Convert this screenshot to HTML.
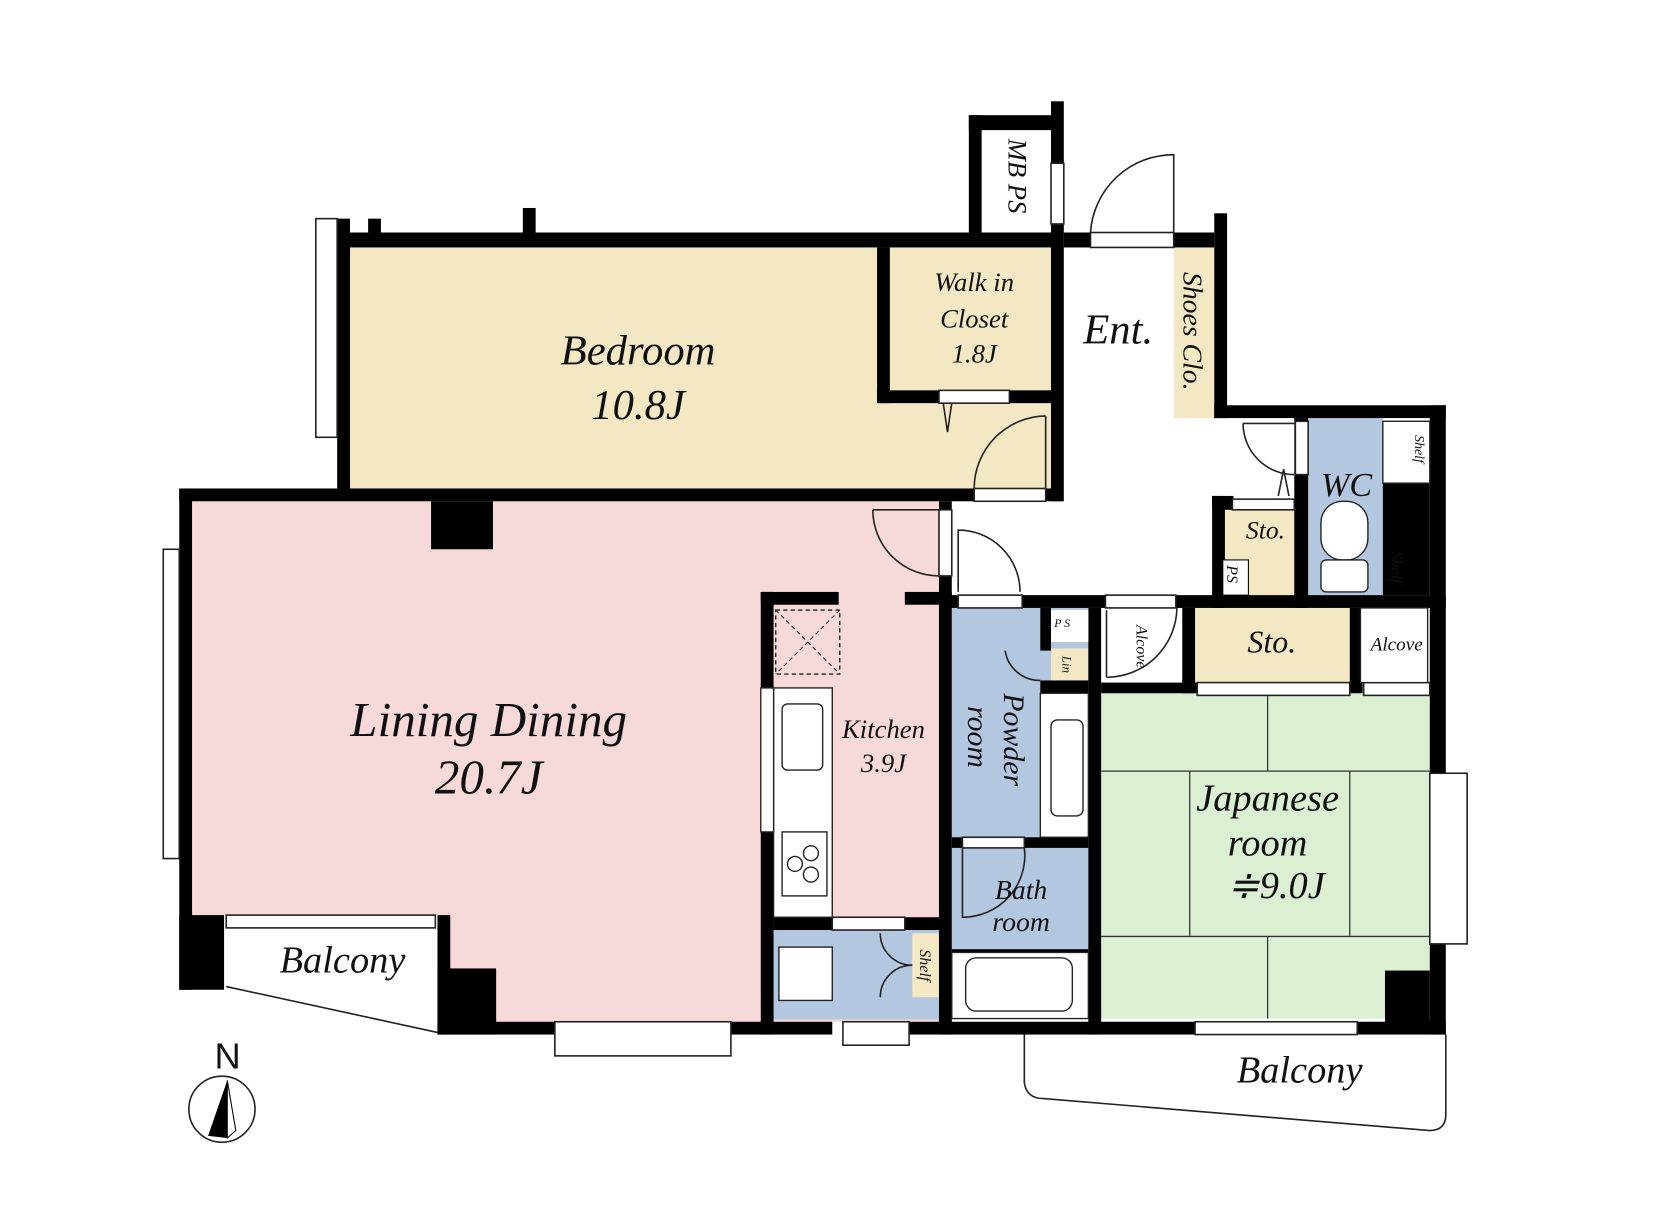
<!DOCTYPE html>
<html><head><meta charset="utf-8"><style>
html,body{margin:0;padding:0;background:#fff;width:1672px;height:1218px;overflow:hidden}
svg{display:block}
text{font-family:"Liberation Serif",serif;font-style:italic;fill:#111}
</style></head><body>
<svg width="1672" height="1218" viewBox="0 0 1567 1142" preserveAspectRatio="none" xmlns="http://www.w3.org/2000/svg">
<rect x="328" y="232" width="494" height="228" fill="#f4e7c3"/>
<rect x="822" y="378" width="163" height="82" fill="#f4e7c3"/>
<rect x="834" y="232" width="151" height="135" fill="#f4e7c3"/>
<polygon points="180,470 880,470 880,958 465,958 410,905 410,858 180,858" fill="#f8d9d9"/>
<rect x="725" y="870" width="155" height="86" fill="#b3c8e0"/>
<rect x="892" y="570" width="128" height="215" fill="#b3c8e0"/>
<rect x="892" y="795" width="128" height="96" fill="#b3c8e0"/>
<rect x="1226" y="392" width="70" height="166" fill="#b3c8e0"/>
<rect x="1148" y="478" width="66" height="80" fill="#f4e7c3"/>
<rect x="1100" y="232" width="38" height="160" fill="#f4e7c3"/>
<rect x="1120" y="570" width="145" height="70" fill="#f4e7c3"/>
<rect x="985" y="608" width="35" height="30" fill="#f4e7c3"/>
<rect x="1300" y="515" width="20" height="43" fill="#f4e7c3"/>
<rect x="855" y="875" width="25" height="60" fill="#f4e7c3"/>
<rect x="1032" y="650" width="308" height="305" fill="#dbf0d2"/>
<g stroke="#333" stroke-width="1.2" fill="none">
<line x1="1188" y1="650" x2="1188" y2="723"/><line x1="1032" y1="723" x2="1340" y2="723"/>
<line x1="1115" y1="723" x2="1115" y2="878"/><line x1="1265" y1="723" x2="1265" y2="878"/>
<line x1="1032" y1="878" x2="1340" y2="878"/><line x1="1188" y1="878" x2="1188" y2="955"/>
</g>
<g fill="#000">
<rect x="316" y="218" width="679" height="14"/>
<rect x="316" y="205" width="12" height="255"/>
<rect x="345" y="205" width="12" height="15"/>
<rect x="490" y="195" width="12" height="25"/>
<rect x="822" y="232" width="12" height="146"/>
<rect x="822" y="366" width="60" height="12"/>
<rect x="946" y="366" width="40" height="12"/>
<rect x="985" y="95" width="12" height="375"/>
<rect x="908" y="108" width="12" height="112"/>
<rect x="908" y="108" width="80" height="14"/>
<rect x="168" y="458" width="745" height="12"/>
<rect x="980" y="458" width="15" height="12"/>
<rect x="404" y="470" width="58" height="45"/>
<rect x="168" y="458" width="12" height="470"/>
<rect x="168" y="858" width="42" height="70"/>
<rect x="410" y="858" width="12" height="112"/>
<rect x="410" y="908" width="55" height="62"/>
<rect x="410" y="958" width="110" height="12"/>
<rect x="685" y="958" width="95" height="12"/>
<rect x="852" y="958" width="503" height="12"/>
<rect x="713" y="555" width="12" height="415"/>
<rect x="713" y="555" width="73" height="12"/>
<rect x="848" y="555" width="44" height="12"/>
<rect x="880" y="470" width="12" height="500"/>
<rect x="725" y="860" width="55" height="12"/>
<rect x="848" y="860" width="32" height="12"/>
<rect x="997" y="218" width="25" height="14"/>
<rect x="1100" y="218" width="38" height="14"/>
<rect x="1138" y="200" width="12" height="192"/>
<rect x="1138" y="380" width="217" height="12"/>
<rect x="880" y="558" width="18" height="12"/>
<rect x="958" y="558" width="78" height="12"/>
<rect x="1102" y="558" width="253" height="12"/>
<rect x="1020" y="570" width="12" height="400"/>
<rect x="1340" y="380" width="15" height="590"/>
<rect x="1296" y="453" width="44" height="105"/>
<rect x="1213" y="392" width="13" height="178"/>
<rect x="1136" y="465" width="12" height="105"/>
<rect x="1136" y="465" width="20" height="13"/>
<rect x="975" y="570" width="10" height="40"/>
<rect x="975" y="638" width="45" height="12"/>
<rect x="892" y="785" width="10" height="10"/>
<rect x="960" y="785" width="60" height="10"/>
<rect x="892" y="890" width="128" height="3"/>
<rect x="1108" y="570" width="12" height="80"/>
<rect x="1265" y="570" width="12" height="80"/>
<rect x="1032" y="640" width="90" height="10"/>
<rect x="1298" y="910" width="42" height="50"/>
</g>
<rect x="1146" y="525" width="24" height="33" fill="#fff" stroke="#000"/>
<rect x="985" y="572" width="35" height="30" fill="#fff"/>
<g fill="#fff" stroke="#222" stroke-width="1.5">
<rect x="296" y="205" width="20" height="205"/>
<rect x="153" y="515" width="15" height="290"/>
<rect x="520" y="958" width="165" height="32"/>
<rect x="790" y="958" width="62" height="22"/>
<rect x="1340" y="725" width="35" height="160"/>
<rect x="1120" y="958" width="152" height="12"/>
<rect x="212" y="858" width="196" height="12"/>
<rect x="1122" y="640" width="143" height="12"/>
<rect x="1278" y="640" width="62" height="12"/>
<rect x="880" y="366" width="66" height="12"/>
<rect x="913" y="458" width="67" height="12"/>
<rect x="898" y="558" width="60" height="12"/>
<rect x="1036" y="558" width="66" height="12"/>
<rect x="902" y="785" width="58" height="10"/>
<rect x="780" y="860" width="68" height="12"/>
<rect x="880" y="478" width="12" height="62"/>
<rect x="1022" y="218" width="78" height="14"/>
<rect x="1155" y="468" width="58" height="10"/>
<rect x="1214" y="395" width="12" height="50"/>
<rect x="985" y="153" width="12" height="57"/>
</g>
<g fill="none" stroke="#222" stroke-width="1.5">
<path d="M980,390 A68,68 0 0 0 913,458 M980,390 L980,458"/>
<path d="M818,478 A62,62 0 0 0 880,540 M818,478 L880,478"/>
<path d="M898,555 L898,497 A58,58 0 0 1 956,555"/>
<path d="M1022,218 A78,78 0 0 1 1100,145 L1100,218"/>
<path d="M1165,397 A48,48 0 0 0 1213,445 M1165,397 L1213,397"/>
<path d="M1037,635 A66,66 0 0 0 1103,570 M1037,635 L1037,572"/>
<path d="M942,610 A33,33 0 0 0 975,638"/>
<path d="M902,795 L902,860 A58,58 0 0 0 960,795"/>
<path d="M825,875 A30,30 0 0 0 855,905 A30,30 0 0 0 825,935"/>
<path d="M884,378 L888,405 L892,378"/>
<path d="M1198,465 L1203,440 L1208,465"/>
<path d="M960,970 L960,1015 Q962,1030 978,1030 L1340,1060 Q1355,1060 1355,1045 L1355,970"/>
<path d="M212,925 L410,968"/>
</g>
<g fill="#fff" stroke="#222" stroke-width="1.3">
<rect x="727" y="572" width="60" height="60" fill="none" stroke-dasharray="4,3"/>
<rect x="725" y="645" width="55" height="215"/>
<rect x="713" y="645" width="12" height="135"/>
<rect x="733" y="660" width="38" height="62" rx="5"/>
<rect x="733" y="780" width="42" height="60"/>
<circle cx="745" cy="810" r="7"/><circle cx="760" cy="800" r="7"/><circle cx="760" cy="820" r="7"/>
<rect x="730" y="888" width="50" height="50"/>
<rect x="975" y="650" width="45" height="135"/>
<rect x="985" y="675" width="30" height="90" rx="6"/>
<rect x="892" y="893" width="128" height="62"/>
<rect x="905" y="898" width="100" height="50" rx="10"/>
<rect x="1238" y="470" width="44" height="55" rx="20"/>
<rect x="1238" y="525" width="44" height="30" rx="5"/>
<rect x="1296" y="395" width="44" height="58"/>
<rect x="1275" y="570" width="63" height="70"/>
</g>
<line x1="727" y1="572" x2="787" y2="632" stroke="#333" stroke-dasharray="4,3"/>
<line x1="787" y1="572" x2="727" y2="632" stroke="#333" stroke-dasharray="4,3"/>
<circle cx="208" cy="1040" r="31" fill="#fff" stroke="#222" stroke-width="1.5"/>
<polygon points="213,1013 195,1065 213,1067" fill="#000"/>
<polygon points="213,1013 221,1060 213,1067" fill="#fff" stroke="#000"/>
<text x="201" y="1002" font-size="34" style="font-style:normal;font-family:'Liberation Sans',sans-serif">N</text>
<g text-anchor="middle">
<text x="598" y="342" font-size="40">Bedroom</text>
<text x="598" y="393" font-size="40">10.8J</text>
<text x="913" y="273" font-size="25">Walk in</text>
<text x="913" y="307" font-size="25">Closet</text>
<text x="913" y="340" font-size="25">1.8J</text>
<text x="1048" y="322" font-size="40">Ent.</text>
<text x="458" y="690" font-size="46">Lining Dining</text>
<text x="458" y="744" font-size="46">20.7J</text>
<text x="828" y="692" font-size="25">Kitchen</text>
<text x="828" y="724" font-size="25">3.9J</text>
<text x="1188" y="760" font-size="36">Japanese</text>
<text x="1188" y="802" font-size="36">room</text>
<text x="1196" y="842" font-size="36">≑9.0J</text>
<text x="957" y="843" font-size="26">Bath</text>
<text x="957" y="873" font-size="26">room</text>
<text x="321" y="912" font-size="36">Balcony</text>
<text x="1218" y="1015" font-size="36">Balcony</text>
<text x="1262" y="465" font-size="32">WC</text>
<text x="1186" y="505" font-size="24">Sto.</text>
<text x="1192" y="612" font-size="30">Sto.</text>
<text x="1309" y="610" font-size="18">Alcove</text>
</g>
<text transform="translate(945,130) rotate(90)" font-size="25">MB PS</text>
<text transform="translate(1109,255) rotate(90)" font-size="26">Shoes Clo.</text>
<text transform="translate(941,650) rotate(90)" font-size="28">Powder</text>
<text transform="translate(907,662) rotate(90)" font-size="28">room</text>
<text transform="translate(1065,586) rotate(90)" font-size="15">Alcove</text>
<text transform="translate(1150,530) rotate(90)" font-size="15">PS</text>
<text transform="translate(1304,517) rotate(90)" font-size="15">Shelf</text>
<text transform="translate(1326,408) rotate(90)" font-size="13">Shelf</text>
<text transform="translate(862,890) rotate(90)" font-size="15">Shelf</text>
<text transform="translate(996,615) rotate(90)" font-size="12">Lin</text>
<text x="988" y="588" font-size="11">P S</text>
</svg>
</body></html>
